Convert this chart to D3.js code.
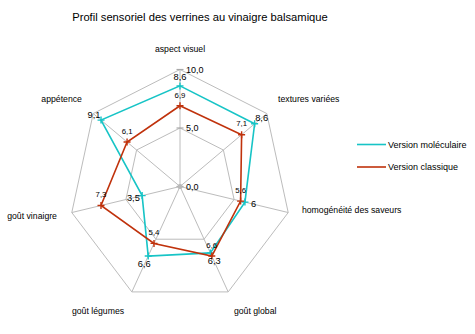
<!DOCTYPE html>
<html><head><meta charset="utf-8">
<script src="https://cdn.jsdelivr.net/npm/d3@7"></script>
<style>
html,body{margin:0;padding:0;background:#fff;}
text{font-family:"Liberation Sans",Arial,sans-serif;fill:#000;}
</style></head>
<body>
<svg id="chart" width="475" height="334"></svg>
<script>
const title = "Profil sensoriel des verrines au vinaigre balsamique";
const categories = ["aspect visuel","textures variées","homogénéité des saveurs","goût global","goût légumes","goût vinaigre","appétence"];
const seriesNames = ["Version moléculaire","Version classique"];
const moleculaire = [8.6, 8.6, 6, 6.3, 6.6, 3.5, 9.1];
const classique = [6.9, 7.1, 5.6, 6.6, 5.4, 7.3, 6.1];
const gridValues = [0, 5, 10];
const tickLabels = ["0,0", "5,0", "10,0"];

const svg = d3.select("#chart");
const cx = 180, cy = 186.5;
const rx = d3.scaleLinear().domain([0,10]).range([0,111]);
const ry = d3.scaleLinear().domain([0,10]).range([0,117]);
const angle = d3.scaleLinear().domain([0, categories.length]).range([-Math.PI/2, 1.5*Math.PI]);
const px = (i,v) => cx + rx(v)*Math.cos(angle(i));
const py = (i,v) => cy + ry(v)*Math.sin(angle(i));
const fmtVal = v => String(v).replace(".", ",");
const colors = ["#17c4c6", "#c0320c"];
const grid = "#bcbcbc";

svg.append("text").attr("x", 200).attr("y", 21).attr("text-anchor","middle")
  .style("font-size","11.2px").text(title);

// grid polygons
const g = svg.append("g");
gridValues.filter(v=>v>0).forEach(v => {
  const pts = categories.map((c,i)=>[px(i,v),py(i,v)]);
  g.append("polygon").attr("points", pts.map(p=>p.join(",")).join(" "))
    .attr("fill","none").attr("stroke",grid).attr("stroke-width",1);
});
// spokes
categories.forEach((c,i)=>{
  g.append("line").attr("x1",cx).attr("y1",cy).attr("x2",px(i,10)).attr("y2",py(i,10))
    .attr("stroke",grid).attr("stroke-width",1);
});
// tick marks on value axis
gridValues.forEach(v=>{
  g.append("line").attr("x1",cx-3.5).attr("x2",cx+3.5).attr("y1",py(0,v)).attr("y2",py(0,v))
    .attr("stroke","#a8a8a8").attr("stroke-width",1.2);
});
g.append("circle").attr("cx",cx).attr("cy",cy).attr("r",2.5).attr("fill","#b8b8b8");
// tick labels
gridValues.forEach((v,k)=>{
  svg.append("text").attr("x", cx+6).attr("y", py(0,v)).attr("dy","0.35em")
    .style("font-size","9px").text(tickLabels[k]);
});

// category labels
const labelPos = [
  {anchor:"middle", r:11.73, off:0},
  {anchor:"start", r:11.3, off:-5},
  {anchor:"start", r:11.27, off:-6},
  {anchor:"start", r:11.2, off:6},
  {anchor:"end", r:11.6, off:2},
  {anchor:"end", r:11.37, off:0},
  {anchor:"end", r:11.3, off:-5.5}
];
categories.forEach((c,i)=>{
  const lp = labelPos[i];
  svg.append("text").attr("x", px(i, lp.r)).attr("y", py(i, lp.r) + lp.off).attr("dy","0.35em")
    .attr("text-anchor", lp.anchor).style("font-size","8.7px").text(c);
});

// series
const line = d3.line().curve(d3.curveLinearClosed);
[moleculaire, classique].forEach((vals, s)=>{
  const pts = vals.map((v,i)=>[px(i,v),py(i,v)]);
  svg.append("path").attr("d", line(pts)).attr("fill","none")
    .attr("stroke", colors[s]).attr("stroke-width",1.6);
  pts.forEach(p=>{
    svg.append("path").attr("d", `M${p[0]-3.5},${p[1]}H${p[0]+3.5}M${p[0]},${p[1]-3.5}V${p[1]+3.5}`)
      .attr("stroke", colors[s]).attr("stroke-width",1.4);
  });
});
// data labels
moleculaire.forEach((v,i)=>{
  const a = angle(i);
  svg.append("text").attr("x", px(i,v)+9*Math.cos(a)).attr("y", py(i,v)+9*Math.sin(a))
    .attr("dy","0.35em").attr("text-anchor","middle").style("font-size","9.3px").text(fmtVal(v));
});
classique.forEach((v,i)=>{
  svg.append("text").attr("x", px(i,v)).attr("y", py(i,v)-11)
    .attr("dy","0.35em").attr("text-anchor","middle").style("font-size","7.8px").text(fmtVal(v));
});

// legend
seriesNames.forEach((n,s)=>{
  const y = 144.5 + s*22.5;
  svg.append("line").attr("x1",357).attr("x2",386).attr("y1",y).attr("y2",y)
    .attr("stroke",colors[s]).attr("stroke-width",1.6);
  svg.append("text").attr("x",388).attr("y",y).attr("dy","0.35em")
    .style("font-size","9px").text(n);
});
</script>
</body></html>
